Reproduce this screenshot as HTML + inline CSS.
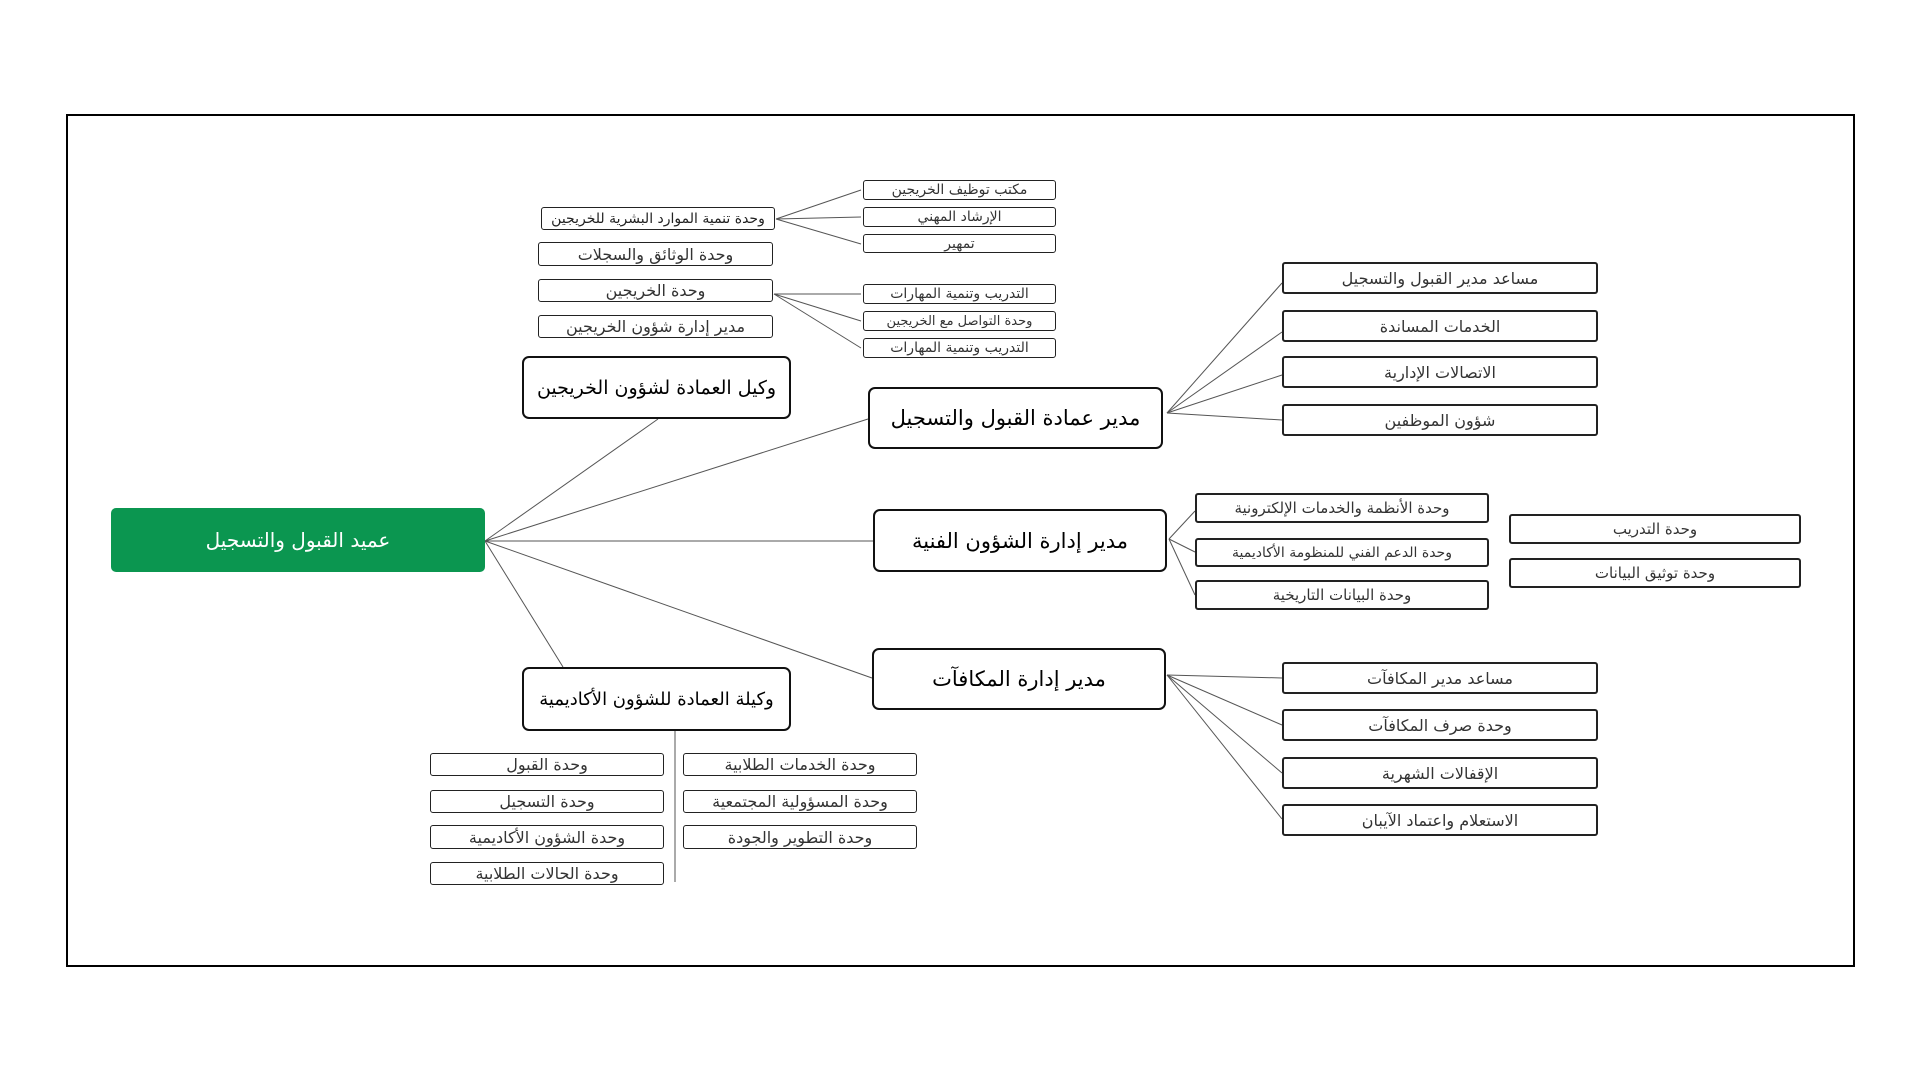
<!DOCTYPE html>
<html><head><meta charset="utf-8"><style>
body{margin:0;width:1920px;height:1080px;background:#fff;position:relative;overflow:hidden;font-family:"DejaVu Sans","Liberation Sans",sans-serif;}
.f{position:absolute;left:66px;top:114px;width:1785px;height:849px;border:2px solid #000;}
.b{position:absolute;box-sizing:border-box;display:flex;align-items:center;justify-content:center;direction:rtl;white-space:nowrap;}
.L{border:2px solid #111;border-radius:7px;font-size:21px;color:#000;}
.S{border:1.6px solid #222;border-radius:3px;font-size:15px;color:#333;}
.M{border:2px solid #222;border-radius:3px;font-size:16px;color:#333;}
svg{position:absolute;left:0;top:0}
</style></head><body>
<div class="f"></div>
<svg width="1920" height="1080" stroke="#555" stroke-width="1">
<line x1="485" y1="541" x2="658" y2="419"/>
<line x1="485" y1="541" x2="868" y2="419"/>
<line x1="485" y1="541" x2="873" y2="541"/>
<line x1="485" y1="541" x2="872" y2="678"/>
<line x1="485" y1="541" x2="563" y2="667"/>
<line x1="776" y1="219" x2="861" y2="190"/>
<line x1="776" y1="219" x2="861" y2="217"/>
<line x1="776" y1="219" x2="861" y2="244"/>
<line x1="774" y1="294" x2="861" y2="294"/>
<line x1="774" y1="294" x2="861" y2="321"/>
<line x1="774" y1="294" x2="861" y2="348"/>
<line x1="1167" y1="413" x2="1282" y2="283"/>
<line x1="1167" y1="413" x2="1282" y2="332"/>
<line x1="1167" y1="413" x2="1282" y2="375"/>
<line x1="1167" y1="413" x2="1282" y2="420"/>
<line x1="1169" y1="539" x2="1195" y2="511"/>
<line x1="1169" y1="539" x2="1195" y2="552"/>
<line x1="1169" y1="539" x2="1195" y2="595"/>
<line x1="1167" y1="675" x2="1282" y2="678"/>
<line x1="1167" y1="675" x2="1282" y2="725"/>
<line x1="1167" y1="675" x2="1282" y2="773"/>
<line x1="1167" y1="675" x2="1282" y2="819"/>
<line x1="675" y1="731" x2="675" y2="882"/>
</svg>
<div class="b" style="left:111px;top:508px;width:374px;height:64px;background:#0b9650;border-radius:5px;color:#fff;font-size:20px;">عميد القبول والتسجيل</div>
<div class="b L" style="left:522px;top:356px;width:269px;height:63px;font-size:19px;">وكيل العمادة لشؤون الخريجين</div>
<div class="b L" style="left:868px;top:387px;width:295px;height:62px;">مدير عمادة القبول والتسجيل</div>
<div class="b L" style="left:873px;top:509px;width:294px;height:63px;">مدير إدارة الشؤون الفنية</div>
<div class="b L" style="left:872px;top:648px;width:294px;height:62px;">مدير إدارة المكافآت</div>
<div class="b L" style="left:522px;top:667px;width:269px;height:64px;font-size:18px;">وكيلة العمادة للشؤون الأكاديمية</div>

<div class="b S" style="left:541px;top:207px;width:234px;height:23px;color:#222;font-size:14px;">وحدة تنمية الموارد البشرية للخريجين</div>
<div class="b S" style="left:538px;top:242px;width:235px;height:24px;font-size:16px;">وحدة الوثائق والسجلات</div>
<div class="b S" style="left:538px;top:279px;width:235px;height:23px;font-size:16px;">وحدة الخريجين</div>
<div class="b S" style="left:538px;top:315px;width:235px;height:23px;font-size:16px;">مدير إدارة شؤون الخريجين</div>
<div class="b S" style="left:863px;top:180px;width:193px;height:20px;font-size:14px;">مكتب توظيف الخريجين</div>
<div class="b S" style="left:863px;top:207px;width:193px;height:20px;font-size:14px;">الإرشاد المهني</div>
<div class="b S" style="left:863px;top:234px;width:193px;height:19px;font-size:14px;">تمهير</div>
<div class="b S" style="left:863px;top:284px;width:193px;height:20px;font-size:14px;">التدريب وتنمية المهارات</div>
<div class="b S" style="left:863px;top:311px;width:193px;height:20px;font-size:13px;">وحدة التواصل مع الخريجين</div>
<div class="b S" style="left:863px;top:338px;width:193px;height:20px;font-size:14px;">التدريب وتنمية المهارات</div>

<div class="b M" style="left:1282px;top:262px;width:316px;height:32px;">مساعد مدير القبول والتسجيل</div>
<div class="b M" style="left:1282px;top:310px;width:316px;height:32px;">الخدمات المساندة</div>
<div class="b M" style="left:1282px;top:356px;width:316px;height:32px;">الاتصالات الإدارية</div>
<div class="b M" style="left:1282px;top:404px;width:316px;height:32px;">شؤون الموظفين</div>

<div class="b M" style="left:1195px;top:493px;width:294px;height:30px;font-size:15px;">وحدة الأنظمة والخدمات الإلكترونية</div>
<div class="b M" style="left:1195px;top:538px;width:294px;height:29px;font-size:14px;">وحدة الدعم الفني للمنظومة الأكاديمية</div>
<div class="b M" style="left:1195px;top:580px;width:294px;height:30px;font-size:15px;">وحدة البيانات التاريخية</div>
<div class="b M" style="left:1509px;top:514px;width:292px;height:30px;font-size:15px;">وحدة التدريب</div>
<div class="b M" style="left:1509px;top:558px;width:292px;height:30px;font-size:15px;">وحدة توثيق البيانات</div>

<div class="b M" style="left:1282px;top:662px;width:316px;height:32px;">مساعد مدير المكافآت</div>
<div class="b M" style="left:1282px;top:709px;width:316px;height:32px;">وحدة صرف المكافآت</div>
<div class="b M" style="left:1282px;top:757px;width:316px;height:32px;">الإقفالات الشهرية</div>
<div class="b M" style="left:1282px;top:804px;width:316px;height:32px;">الاستعلام واعتماد الآيبان</div>

<div class="b S" style="left:430px;top:753px;width:234px;height:23px;font-size:16px;">وحدة القبول</div>
<div class="b S" style="left:430px;top:790px;width:234px;height:23px;font-size:16px;">وحدة التسجيل</div>
<div class="b S" style="left:430px;top:825px;width:234px;height:24px;font-size:16px;">وحدة الشؤون الأكاديمية</div>
<div class="b S" style="left:430px;top:862px;width:234px;height:23px;font-size:16px;">وحدة الحالات الطلابية</div>
<div class="b S" style="left:683px;top:753px;width:234px;height:23px;font-size:16px;">وحدة الخدمات الطلابية</div>
<div class="b S" style="left:683px;top:790px;width:234px;height:23px;font-size:16px;">وحدة المسؤولية المجتمعية</div>
<div class="b S" style="left:683px;top:825px;width:234px;height:24px;font-size:16px;">وحدة التطوير والجودة</div>
</body></html>
